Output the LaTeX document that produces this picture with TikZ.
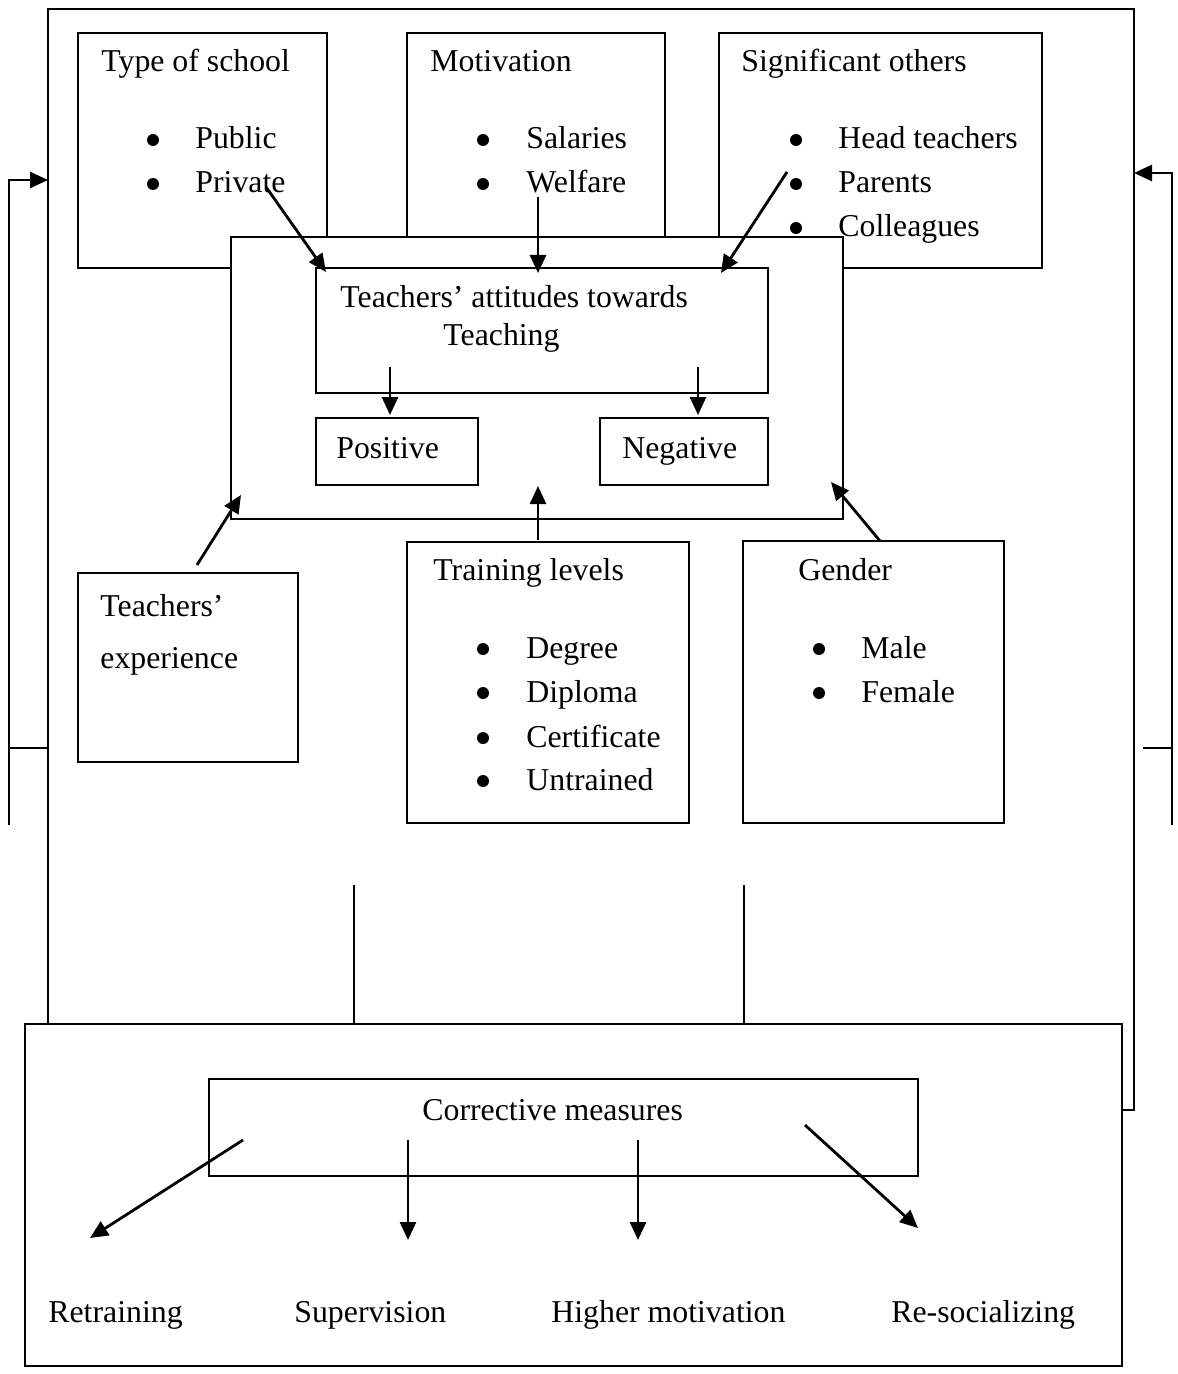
\documentclass[tikz,border=0pt]{standalone}
\usepackage{fontspec}
\setmainfont{Liberation Serif}
\usetikzlibrary{arrows.meta,fit}
\begin{document}
\begin{tikzpicture}[x=0.5pt,y=-0.5pt,line width=1.4pt,
    frame/.style={draw, inner sep=0pt, line width=1.4pt},
    blank/.style={frame, fill=white},
    lbl/.style={anchor=base west, inner sep=0pt, font=\fontsize{15.9}{19}\selectfont},
    dot/.style={circle, fill, inner sep=0pt, minimum size=6pt},
    arr/.style={-{Triangle[length=9pt,width=8pt]}}]
  \useasboundingbox (0,0) rectangle (1177,1374);

  % Helper macro  {name}{bullet x}{text x}{baseline}{text}
  \newcommand{\entry}[5]{%
    \node[dot] (#1b) at (#2,#4-9) {};
    \node[lbl] (#1) at (#3,#4) {#5};}

  % Outer frame and feedback loops
  \node[frame, fit={(48,9) (1134,1110)}] (outer) {};
  \coordinate (lfoot) at (9,825);
  \coordinate (lturn) at (9,180);
  \coordinate (lin) at (48,180);
  \coordinate (ltick) at (9,748);
  \coordinate (rfoot) at (1172,825);
  \coordinate (rturn) at (1172,173);
  \coordinate (rin) at (1134,173);
  \coordinate (rtick) at (1143,748);
  \draw[arr] (lfoot) -- (lturn) -- (lin);
  \draw (ltick) -- (ltick -| outer.west);
  \draw[arr] (rfoot) -- (rturn) -- (rin);
  \draw (rtick) -- (rtick -| rfoot);

  % Factor boxes at the top
  \node[frame, fit={(78,33) (327,268)}] (school) {};
  \node[frame, fit={(407,33) (665,268)}] (motiv) {};
  \node[frame, fit={(719,33) (1042,268)}] (others) {};

  % Attitude block
  \node[blank, fit={(231,237) (843,519)}] (core) {};
  \node[frame, fit={(316,268) (768,393)}] (att) {};
  \node[frame, fit={(316,418) (478,485)}] (pos) {};
  \node[frame, fit={(600,418) (768,485)}] (neg) {};

  % Factor boxes below
  \node[frame, fit={(78,573) (298,762)}] (exper) {};
  \node[frame, fit={(407,542) (689,823)}] (train) {};
  \node[frame, fit={(743,541) (1004,823)}] (gender) {};

  % Links down to the corrective block
  \coordinate (lkA) at (354,885);
  \coordinate (lkB) at (744,885);
  \draw (lkA) -- (354,1024);
  \draw (lkB) -- (744,1024);

  % Corrective block
  \node[blank, fit={(25,1024) (1122,1366)}] (lower) {};
  \node[frame, fit={(209,1079) (918,1176)}] (corr) {};

  % Texts of the top boxes
  \node[lbl] (schoolt) at (100,72) {Type of school};
  \entry{pub}{153}{194}{149}{Public}
  \entry{priv}{153}{194}{193}{Private}
  \node[lbl] (motivt) at (429,72) {Motivation};
  \entry{sal}{483}{525}{149}{Salaries}
  \entry{welf}{483}{525}{193}{Welfare}
  \node[lbl] (otherst) at (740,72) {Significant others};
  \entry{head}{796}{837}{149}{Head teachers}
  \entry{par}{796}{837}{193}{Parents}
  \entry{coll}{796}{837}{237}{Colleagues}

  % Texts of the attitude block
  \node[lbl] (attA) at (339,307) {Teachers’ attitudes towards};
  \node[lbl] (attB) at (442,345) {Teaching};
  \node[lbl] (post) at (335,458) {Positive};
  \node[lbl] (negt) at (621,458) {Negative};

  % Texts of the lower boxes
  \node[lbl] (expA) at (99,616) {Teachers’};
  \node[lbl] (expB) at (99,668) {experience};
  \node[lbl] (traint) at (432,580) {Training levels};
  \entry{deg}{483}{525}{658}{Degree}
  \entry{dip}{483}{525}{702}{Diploma}
  \entry{cert}{483}{525}{747}{Certificate}
  \entry{untr}{483}{525}{790}{Untrained}
  \node[lbl] (gendert) at (797,580) {Gender};
  \entry{male}{819}{860}{658}{Male}
  \entry{fem}{819}{860}{702}{Female}

  % Texts of the corrective block
  \node[lbl] (corrt) at (421,1120) {Corrective measures};
  \node[lbl] (retr) at (47,1322) {Retraining};
  \node[lbl] (sup) at (293,1322) {Supervision};
  \node[lbl] (high) at (550,1322) {Higher motivation};
  \node[lbl] (resoc) at (890,1322) {Re-socializing};

  % Arrows into the attitude block
  \coordinate (fSchool) at (266,187);  \coordinate (tSchool) at (326,272);
  \coordinate (fMotiv) at (538,197);   \coordinate (tMotiv) at (538,273);
  \coordinate (fOthers) at (787,172);  \coordinate (tOthers) at (721,273);
  \coordinate (fPos) at (390,367);     \coordinate (tPos) at (390,415);
  \coordinate (fNeg) at (698,367);     \coordinate (tNeg) at (698,415);
  \coordinate (fExper) at (197,565);   \coordinate (tExper) at (241,495);
  \coordinate (fTrain) at (538,540);   \coordinate (tTrain) at (538,486);
  \coordinate (fGender) at (880,541);  \coordinate (tGender) at (831,482);
  \draw[arr] (fSchool) -- (tSchool);
  \draw[arr] (fMotiv) -- (tMotiv);
  \draw[arr] (fOthers) -- (tOthers);
  \draw[arr] (fPos) -- (tPos);
  \draw[arr] (fNeg) -- (tNeg);
  \draw[arr] (fExper) -- (tExper);
  \draw[arr] (fTrain) -- (tTrain);
  \draw[arr] (fGender) -- (tGender);

  % Arrows out of the corrective measures
  \coordinate (cA) at (243,1140);  \coordinate (dA) at (90,1238);
  \coordinate (cB) at (408,1140);  \coordinate (dB) at (408,1240);
  \coordinate (cC) at (638,1140);  \coordinate (dC) at (638,1240);
  \coordinate (cD) at (805,1125);  \coordinate (dD) at (918,1228);
  \draw[arr] (cA) -- (dA);
  \draw[arr] (cB) -- (dB);
  \draw[arr] (cC) -- (dC);
  \draw[arr] (cD) -- (dD);
\end{tikzpicture}
\end{document}
